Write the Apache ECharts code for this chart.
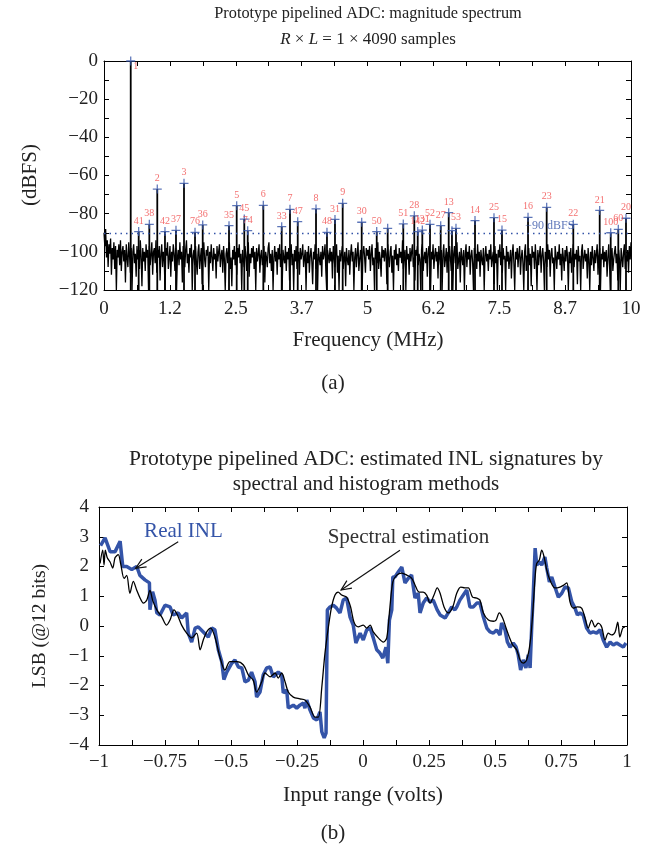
<!DOCTYPE html>
<html><head><meta charset="utf-8">
<script src="https://cdn.jsdelivr.net/npm/echarts/dist/echarts.min.js"></script>
<style>html,body{margin:0;padding:0;background:#fff}#c{width:665px;height:851px}</style>
</head><body><div id="c"></div>
<script>
// ---------- Panel (a): magnitude spectrum ----------
const noiseDb = [
-90,-97,-88,-103,-94,-108,-96,-101,-93,-112,-98,-104,-95,-109,-97,-120,-99,-103,-96,-107,
-94,-110,-100,-97,-105,-99,-116,-96,-103,-108,-95,-102,-111,-98,-120,-100,-96,-106,-101,-113,
-97,-104,-99,-109,-94,-102,-118,-98,-105,-100,-110,-96,-103,-99,-120,-97,-107,-101,-95,-112,
-100,-98,-106,-94,-111,-99,-103,-97,-115,-101,-96,-108,-100,-104,-120,-98,-102,-95,-109,-103,
-97,-113,-100,-105,-96,-101,-110,-98,-120,-103,-99,-107,-95,-104,-100,-116,-97,-102,-108,-99,
-94,-106,-101,-111,-98,-103,-96,-120,-102,-99,-107,-97,-105,-112,-100,-96,-109,-103,-98,-117,
-101,-95,-104,-108,-99,-102,-97,-120,-100,-106,-96,-103,-110,-98,-104,-101,-114,-97,-105,-100,
-96,-108,-102,-99,-111,-97,-104,-120,-101,-98,-106,-100,-95,-109,-103,-118,-99,-104,-97,-107,
-100,-112,-98,-103,-96,-106,-101,-120,-99,-104,-108,-97,-102,-110,-100,-95,-113,-101,-106,-98,
-103,-97,-109,-100,-120,-98,-105,-101,-96,-111,-102,-99,-107,-104,-97,-116,-100,-103,-108,-98,
-95,-106,-101,-110,-99,-120,-103,-97,-105,-100,-112,-98,-104,-96,-108,-101,-120,-99,-103,-106,
-97,-110,-100,-104,-98,-115,-102,-96,-107,-101,-120,-99,-105,-97,-109,-103,-100,-112,-98,-104,
-101,-96,-108,-103,-99,-120,-100,-106,-97,-111,-102,-98,-105,-117,-100,-104,-96,-109,-101,-120,
-98,-103,-107,-100,-113,-97,-104,-101,-96,-110,-120,-99,-102,-106,-98,-105,-100,-114,-97,-103,
-108,-100,-96,-111,-102,-120,-99,-105,-101,-97,-109,-103,-100,-118,-98,-104,-107,-99,-112,-101,
-96,-105,-100,-120,-103,-98,-108,-101,-95,-110,-104,-99,-106,-120,-100,-97,-103,-111,-98,-102,
-99,-104,-97,-110,-101,-96,-107,-103,-120,-98,-102,-106,-95,-109,-100,-104,-113,-97,-103,-99,
-105,-98,-101,-117,-96,-103,-108,-100,-97,-111,-102,-120,-99,-104,-96,-107,-101,-110,-98,-103,
-100,-106,-94,-109,-102,-99,-120,-97,-104,-101,-112,-98,-105,-100,-96,-108,-103,-115,-99,-102,
-97,-107,-101,-104,-120,-99,-96,-110,-103,-100,-106,-98,-113,-101,-97,-105,-120,-100,-104,-96,
-109,-102,-98,-105,-100,-114,-97,-103,-107,-99,-120,-101,-96,-108,-104,-98,-111,-100,-105,-97,
-103,-110,-99,-120,-101,-97,-106,-102,-95,-109,-104,-100,-116,-98,-103,-107,-99,-120,-101,-96,
-108,-100,-104,-97,-112,-102,-99,-106,-120,-98,-103,-101,-109,-96,-105,-100,-113,-99,-104,-107,
-98,-120,-102,-97,-105,-101,-110,-99,-104,-96,-108,-103,-100,-117,-97,-106,-101,-120,-99,-103,
-96,-107,-100,-111,-98,-104,-102,-120,-97,-105,-100,-109,-103,-99,-114,-101,-96,-106,-120,-100,
-104,-98,-108,-101,-97,-112,-103,-99,-106,-120,-100,-96,-110,-102,-105,-98,-107,-101,-118,-97,
-103,-100,-109,-96,-104,-120,-99,-107,-101,-97,-111,-102,-98,-105,-120,-100,-103,-108,-96,-104,
-99,-113,-101,-98,-106,-103,-120,-97,-102,-109,-100,-104,-96,-107,-101,-115,-98,-103,-110,-99,
-105,-97,-102,-120,-100,-106,-98,-111,-103,-96,-108,-101,-104,-99,-117,-97,-105,-102,-120,-100,
-96,-109,-103,-99,-105,-101,-114,-98,-104,-120,-100,-107,-97,-103,-110,-99,-106,-101,-96,-112,
-102,-98,-120,-101,-104,-97,-108,-100,-105,-99,-113,-103,-96,-107,-120,-101,-98,-110,-104,-100,
-97,-106,-101,-115,-99,-104,-120,-98,-103,-108,-100,-96,-109,-102,-105,-99,-111,-97,-104,-95
];
const peakFreq = [0.507,0.658,0.860,1.011,1.157,1.366,1.518,1.727,1.873,2.372,
  2.518,2.662,2.727,3.023,3.372,3.529,3.676,4.023,4.231,4.383,
  4.529,4.890,5.175,5.383,5.679,5.888,5.953,6.040,6.186,6.389,
  6.541,6.603,6.679,7.040,7.400,7.552,8.046,8.400,8.905,9.406,
  9.615,9.759,9.905];
const peakDb = [0,-89.4,-85.6,-67.1,-89.4,-88.7,-64.1,-89.8,-85.9,-86.3,
  -75.8,-82.8,-88.9,-75.6,-86.8,-77.7,-84.2,-77.5,-89.8,-83.0,
  -74.6,-84.5,-89.4,-87.7,-85.4,-81.1,-89.4,-88.6,-85.6,-86.3,
  -79.5,-88.9,-87.7,-83.6,-82.1,-88.6,-81.9,-76.7,-85.6,-78.3,
  -90.0,-88.2,-82.4];
const peakLabels = ['1','41','38','2','42','37','3','76','36','35',
  '5','45','74','6','33','7','47','8','48','31',
  '9','30','50','','51','28','142','131','52','27',
  '13','','53','14','25','15','16','23','22','21',
  '100','60','20'];
const thresholdDb = -90;
const thresholdText = '\u221290 dBFS';
const thresholdTextFreq = 8.46;

// ---------- Panel (b): INL signatures ----------
const realINL = [
[-0.994,2.7],[-0.977,2.96],[-0.958,2.5],[-0.939,2.5],[-0.920,2.85],[-0.910,2.0],[-0.895,2.0],[-0.876,1.9],[-0.857,2.0],[-0.845,1.7],
[-0.826,1.55],[-0.809,1.45],[-0.807,0.55],[-0.797,1.15],[-0.788,0.87],[-0.781,0.44],[-0.769,0.37],[-0.750,0.7],[-0.731,0.64],[-0.719,0.37],
[-0.700,0.44],[-0.687,0.27],[-0.668,0.44],[-0.662,-0.24],[-0.649,-0.54],[-0.636,-0.07],[-0.624,-0.03],[-0.605,-0.2],[-0.586,-0.37],[-0.573,-0.07],
[-0.561,-0.13],[-0.548,-0.8],[-0.535,-1.2],[-0.527,-1.8],[-0.516,-1.55],[-0.497,-1.25],[-0.485,-1.14],[-0.472,-1.38],[-0.459,-1.41],[-0.447,-1.88],
[-0.434,-1.82],[-0.422,-1.55],[-0.409,-1.88],[-0.403,-2.39],[-0.390,-2.22],[-0.378,-1.65],[-0.365,-1.41],[-0.352,-1.38],[-0.340,-1.71],[-0.321,-1.55],
[-0.308,-1.65],[-0.302,-2.25],[-0.289,-2.15],[-0.283,-2.76],[-0.264,-2.66],[-0.251,-2.76],[-0.239,-2.66],[-0.226,-2.59],[-0.220,-2.76],[-0.213,-2.49],
[-0.201,-2.82],[-0.188,-3.09],[-0.175,-3.16],[-0.163,-2.89],[-0.156,-3.56],[-0.147,-3.76],[-0.140,-3.6],[-0.135,0.54],[-0.125,0.64],[-0.112,0.7],
[-0.100,0.6],[-0.087,0.44],[-0.075,0.87],[-0.062,0.94],[-0.049,0.3],[-0.037,0.03],[-0.027,-0.57],[-0.011,-0.24],[0.001,-0.47],[0.014,-0.13],
[0.027,-0.07],[0.039,-0.4],[0.052,-0.8],[0.064,-0.91],[0.075,-1.08],[0.087,-0.71],[0.094,-1.25],[0.100,0.2],[0.109,0.54],[0.113,1.65],
[0.121,1.65],[0.134,1.82],[0.147,1.98],[0.159,1.45],[0.172,1.61],[0.184,1.71],[0.197,0.94],[0.209,1.1],[0.216,0.44],[0.228,0.77],
[0.241,0.94],[0.254,0.81],[0.266,0.87],[0.281,0.54],[0.292,0.37],[0.311,0.27],[0.323,0.44],[0.336,0.64],[0.348,0.54],[0.355,0.64],
[0.367,0.87],[0.380,1.04],[0.393,1.21],[0.405,0.64],[0.418,0.64],[0.431,0.77],[0.443,0.77],[0.456,0.3],[0.469,-0.07],[0.481,-0.2],
[0.494,-0.24],[0.506,-0.13],[0.519,-0.3],[0.525,0.1],[0.538,-0.13],[0.547,-0.54],[0.557,-0.71],[0.569,-0.57],[0.580,-0.71],[0.588,-0.97],
[0.597,-1.48],[0.607,-1.14],[0.617,-1.41],[0.626,-0.97],[0.633,-1.41],[0.639,-0.03],[0.645,1.1],[0.652,2.62],[0.658,2.05],[0.668,2.15],
[0.677,2.05],[0.689,2.32],[0.696,1.95],[0.706,1.48],[0.715,1.65],[0.727,1.31],[0.740,0.97],[0.753,1.1],[0.765,1.31],[0.778,1.28],
[0.791,0.81],[0.803,0.6],[0.812,0.37],[0.822,0.44],[0.834,0.37],[0.847,-0.07],[0.860,-0.24],[0.872,-0.2],[0.885,-0.24],[0.898,-0.13],
[0.910,-0.47],[0.923,-0.71],[0.936,-0.54],[0.948,-0.64],[0.961,-0.57],[0.973,-0.64],[0.986,-0.71],[0.996,-0.57]
];
const spectralINL = [
[-0.996,2.1],[-0.986,2.55],[-0.981,2.05],[-0.976,2.55],[-0.969,2.3],[-0.958,2.15],[-0.948,1.95],[-0.939,2.3],[-0.927,2.4],[-0.918,2.1],
[-0.905,1.6],[-0.895,1.7],[-0.883,1.1],[-0.870,1.5],[-0.857,1.2],[-0.845,0.95],[-0.832,0.77],[-0.819,0.87],[-0.807,1.2],[-0.797,0.87],
[-0.781,0.54],[-0.762,0.3],[-0.744,0.03],[-0.731,0.2],[-0.716,0.54],[-0.703,0.37],[-0.687,0.03],[-0.668,-0.24],[-0.649,-0.4],[-0.630,-0.24],
[-0.617,-0.8],[-0.605,-0.47],[-0.592,-0.2],[-0.577,-0.07],[-0.561,-0.37],[-0.542,-1.04],[-0.523,-1.48],[-0.504,-1.2],[-0.478,-1.2],[-0.453,-1.31],
[-0.434,-1.65],[-0.416,-1.82],[-0.403,-2.22],[-0.384,-1.88],[-0.371,-1.58],[-0.352,-1.71],[-0.333,-1.58],[-0.321,-1.75],[-0.308,-1.58],[-0.295,-1.88],
[-0.283,-2.22],[-0.264,-2.39],[-0.239,-2.45],[-0.220,-2.49],[-0.201,-2.72],[-0.182,-3.06],[-0.169,-3.06],[-0.156,-2.05],[-0.144,-0.91],[-0.131,-0.03],
[-0.119,0.64],[-0.106,1.04],[-0.094,1.14],[-0.081,1.04],[-0.062,0.97],[-0.047,0.64],[-0.034,0.13],[-0.018,-0.03],[0.001,0.03],[0.014,-0.07],
[0.027,0.03],[0.039,-0.2],[0.058,-0.4],[0.077,-0.54],[0.090,-0.4],[0.102,0.64],[0.113,1.48],[0.128,1.71],[0.147,1.78],[0.166,1.71],
[0.184,1.61],[0.197,1.38],[0.213,1.14],[0.228,1.14],[0.241,1.04],[0.254,0.77],[0.269,1.04],[0.281,1.28],[0.292,1.1],[0.307,0.64],
[0.323,0.44],[0.340,0.64],[0.355,1.1],[0.370,1.31],[0.386,1.28],[0.399,1.28],[0.415,0.97],[0.431,0.94],[0.443,0.87],[0.456,0.44],
[0.475,0.2],[0.494,0.16],[0.504,0.2],[0.516,0.44],[0.529,0.27],[0.542,-0.07],[0.554,-0.37],[0.567,-0.64],[0.582,-0.8],[0.595,-1.14],
[0.607,-1.25],[0.620,-1.14],[0.633,-0.57],[0.643,0.44],[0.652,1.65],[0.658,2.1],[0.668,2.22],[0.677,2.55],[0.686,2.32],[0.696,1.88],
[0.708,1.55],[0.727,1.28],[0.746,1.31],[0.761,1.38],[0.772,1.45],[0.784,0.81],[0.797,0.6],[0.812,0.64],[0.828,0.6],[0.841,0.27],
[0.853,-0.07],[0.866,0.2],[0.879,-0.03],[0.891,0.1],[0.904,-0.03],[0.917,-0.47],[0.929,-0.24],[0.942,-0.3],[0.955,-0.2],[0.965,0.13],
[0.973,-0.37],[0.984,-0.07],[0.992,-0.03]
];
// annotations (data coordinates)
const realLabelAt = [-0.68, 3.19];
const realArrow = {from: [-0.70, 2.83], to: [-0.861, 1.94]};
const specLabelAt = [0.172, 2.96];
const specArrow = {from: [0.14, 2.55], to: [-0.083, 1.21]};

// ---------- styling ----------
const FONT = '"Liberation Serif", "Times New Roman", serif';
const MINUS = '\u2212';
const TXT = '#222';
const BLUE = '#3454a8';
const RED = '#f04a4a';
const fmtNum = v => (v < 0 ? MINUS + String(+(-v).toFixed(3)) : String(+v.toFixed(3)));
const isMult = (v, m) => Math.abs(v / m - Math.round(v / m)) < 1e-6;

function axis(extra) {
  return Object.assign({
    type: 'value',
    axisLine: {show: true, onZero: false, lineStyle: {color: '#000', width: 1}},
    axisTick: {show: true, inside: true, length: 5, lineStyle: {color: '#000', width: 1}},
    splitLine: {show: false},
    axisLabel: {show: false}
  }, extra);
}
const lblA = {fontFamily: FONT, fontSize: 19, color: TXT};
const lblB = {fontFamily: FONT, fontSize: 19, color: TXT};

const noiseData = noiseDb.map((v, i) => [i * 10 / (noiseDb.length - 1), v]);
const peakData = peakFreq.map((f, i) => [f, peakDb[i]]);

const chart = echarts.init(document.getElementById('c'), null, {renderer: 'canvas'});
const option = {
  animation: false,
  backgroundColor: '#fff',
  grid: [
    {left: 104, top: 61, width: 527, height: 229, outerBoundsMode: 'none', containLabel: false},
    {left: 99, top: 507, width: 528, height: 238, outerBoundsMode: 'none', containLabel: false}
  ],
  xAxis: [
    axis({gridIndex: 0, position: 'bottom', min: 0, max: 10, interval: 0.625,
      axisLabel: Object.assign({show: true, margin: 10, showMinLabel: true, showMaxLabel: true,
        formatter: v => isMult(v, 1.25) ? String(Math.floor(v * 10 + 1e-6) / 10) : ''}, lblA)}),
    axis({gridIndex: 0, position: 'top', min: 0, max: 10, interval: 0.625}),
    axis({gridIndex: 1, position: 'bottom', min: -1, max: 1, interval: 0.125,
      axisLabel: Object.assign({show: true, margin: 8, showMinLabel: true, showMaxLabel: true,
        formatter: v => isMult(v, 0.25) ? fmtNum(v) : ''}, lblB)}),
    axis({gridIndex: 1, position: 'top', min: -1, max: 1, interval: 0.125})
  ],
  yAxis: [
    axis({gridIndex: 0, position: 'left', min: -120, max: 0, interval: 10,
      axisLabel: Object.assign({show: true, margin: 6, showMinLabel: true, showMaxLabel: true,
        formatter: v => isMult(v, 20) ? fmtNum(v) : ''}, lblA)}),
    axis({gridIndex: 0, position: 'right', min: -120, max: 0, interval: 10}),
    axis({gridIndex: 1, position: 'left', min: -4, max: 4, interval: 1,
      axisLabel: Object.assign({show: true, margin: 10, showMinLabel: true, showMaxLabel: true,
        formatter: v => fmtNum(v)}, lblB)}),
    axis({gridIndex: 1, position: 'right', min: -4, max: 4, interval: 1})
  ],
  series: [
    {
      type: 'line', xAxisIndex: 0, yAxisIndex: 0, data: noiseData, showSymbol: false, silent: true,
      lineStyle: {color: '#000', width: 1.3}, sampling: null, z: 2,
      markLine: {
        silent: true, symbol: ['none', 'none'], label: {show: false},
        lineStyle: {color: BLUE, type: [1.5, 4], width: 1.3},
        data: [{yAxis: thresholdDb}]
      }
    },
    {
      type: 'custom', xAxisIndex: 0, yAxisIndex: 0, data: peakData, silent: true, z: 3,
      renderItem: (params, api) => {
        const p1 = api.coord([api.value(0), -120]);
        const p2 = api.coord([api.value(0), api.value(1)]);
        return {type: 'line', shape: {x1: p1[0], y1: p1[1], x2: p2[0], y2: p2[1]},
          style: {stroke: '#000', lineWidth: 1.8}};
      }
    },
    {
      type: 'scatter', xAxisIndex: 0, yAxisIndex: 0, z: 5, silent: true, clip: false,
      symbol: 'path://M0,4.3h10v1.4h-10zM4.3,0h1.4v10h-1.4z', symbolSize: 9,
      itemStyle: {color: BLUE},
      data: peakData.map((d, i) => i === 0
        ? {value: d, label: {position: [7, 5]}}
        : {value: d}),
      label: {show: true, position: 'top', distance: 1, color: RED, fontFamily: FONT, fontSize: 10,
        formatter: p => peakLabels[p.dataIndex]}
    },
    {
      type: 'scatter', xAxisIndex: 0, yAxisIndex: 0, z: 4, silent: true,
      symbolSize: 1, itemStyle: {color: 'rgba(0,0,0,0)'},
      data: [[thresholdTextFreq, thresholdDb]],
      label: {show: true, position: 'top', distance: 0, color: BLUE, fontFamily: FONT, fontSize: 12,
        formatter: () => thresholdText}
    },
    {
      type: 'line', xAxisIndex: 2, yAxisIndex: 2, data: realINL, showSymbol: false, silent: true,
      lineStyle: {color: BLUE, width: 3.5}, z: 2
    },
    {
      type: 'line', xAxisIndex: 2, yAxisIndex: 2, data: spectralINL, showSymbol: false, silent: true,
      smooth: 0.3, lineStyle: {color: '#000', width: 1.3}, z: 3
    }
  ]
};
chart.setOption(option);

// ---------- texts and arrows ----------
function txt(id, text, x, y, size, extra) {
  return Object.assign({
    type: 'text', id, x, y, silent: true, z: 10,
    style: Object.assign({text, font: size + 'px ' + FONT, fill: TXT, align: 'center', verticalAlign: 'middle'},
      (extra && extra.style) || {})
  }, extra ? {rotation: extra.rotation || 0} : {});
}
const toPx = p => chart.convertToPixel({xAxisIndex: 2, yAxisIndex: 2}, p);
function arrow(id, a, color) {
  const s = toPx(a.from), t = toPx(a.to);
  const dx = s[0] - t[0], dy = s[1] - t[1];
  const L = Math.hypot(dx, dy), ux = dx / L, uy = dy / L;
  const ang = 0.42, len = 11;
  const r = (c, sn) => [t[0] + len * (ux * c - uy * sn), t[1] + len * (uy * c + ux * sn)];
  const h1 = r(Math.cos(ang), Math.sin(ang)), h2 = r(Math.cos(ang), -Math.sin(ang));
  return [
    {type: 'line', id: id + 's', silent: true, z: 10, shape: {x1: s[0], y1: s[1], x2: t[0], y2: t[1]},
      style: {stroke: color, lineWidth: 1.2}},
    {type: 'polyline', id: id + 'h', silent: true, z: 10, shape: {points: [h1, t, h2]},
      style: {stroke: color, lineWidth: 1.2, fill: null}}
  ];
}
const rl = toPx(realLabelAt), sl = toPx(specLabelAt);
const graphics = [
  txt('t1', 'Prototype pipelined ADC: magnitude spectrum', 368, 14, 16.3),
  {type: 'text', id: 't2', x: 368, y: 40, silent: true, z: 10,
    style: {text: '{i|R} \u00d7 {i|L} = 1 \u00d7 4090 samples', font: '17px ' + FONT, fill: TXT,
      align: 'center', verticalAlign: 'middle',
      rich: {i: {fontStyle: 'italic', fontFamily: FONT, fontSize: 17, fill: TXT}}}},
  txt('ya', '(dBFS)', 30, 175, 21, {rotation: Math.PI / 2}),
  txt('xa', 'Frequency (MHz)', 368, 340, 21),
  txt('pa', '(a)', 333, 383, 21),
  txt('t3', 'Prototype pipelined ADC: estimated INL signatures by', 366, 459, 21.5),
  txt('t4', 'spectral and histogram methods', 366, 484, 21),
  txt('yb', 'LSB (@12 bits)', 40, 626, 19.5, {rotation: Math.PI / 2}),
  txt('xb', 'Input range (volts)', 363, 795, 21.5),
  txt('pb', '(b)', 333, 833, 21),
  txt('rl', 'Real INL', rl[0], rl[1], 21, {style: {fill: BLUE}}),
  txt('sl', 'Spectral estimation', sl[0], sl[1], 21, {style: {fill: '#333'}})
].concat(arrow('ra', realArrow, '#111'), arrow('sa', specArrow, '#111'));
chart.setOption({graphic: graphics});
</script></body></html>
